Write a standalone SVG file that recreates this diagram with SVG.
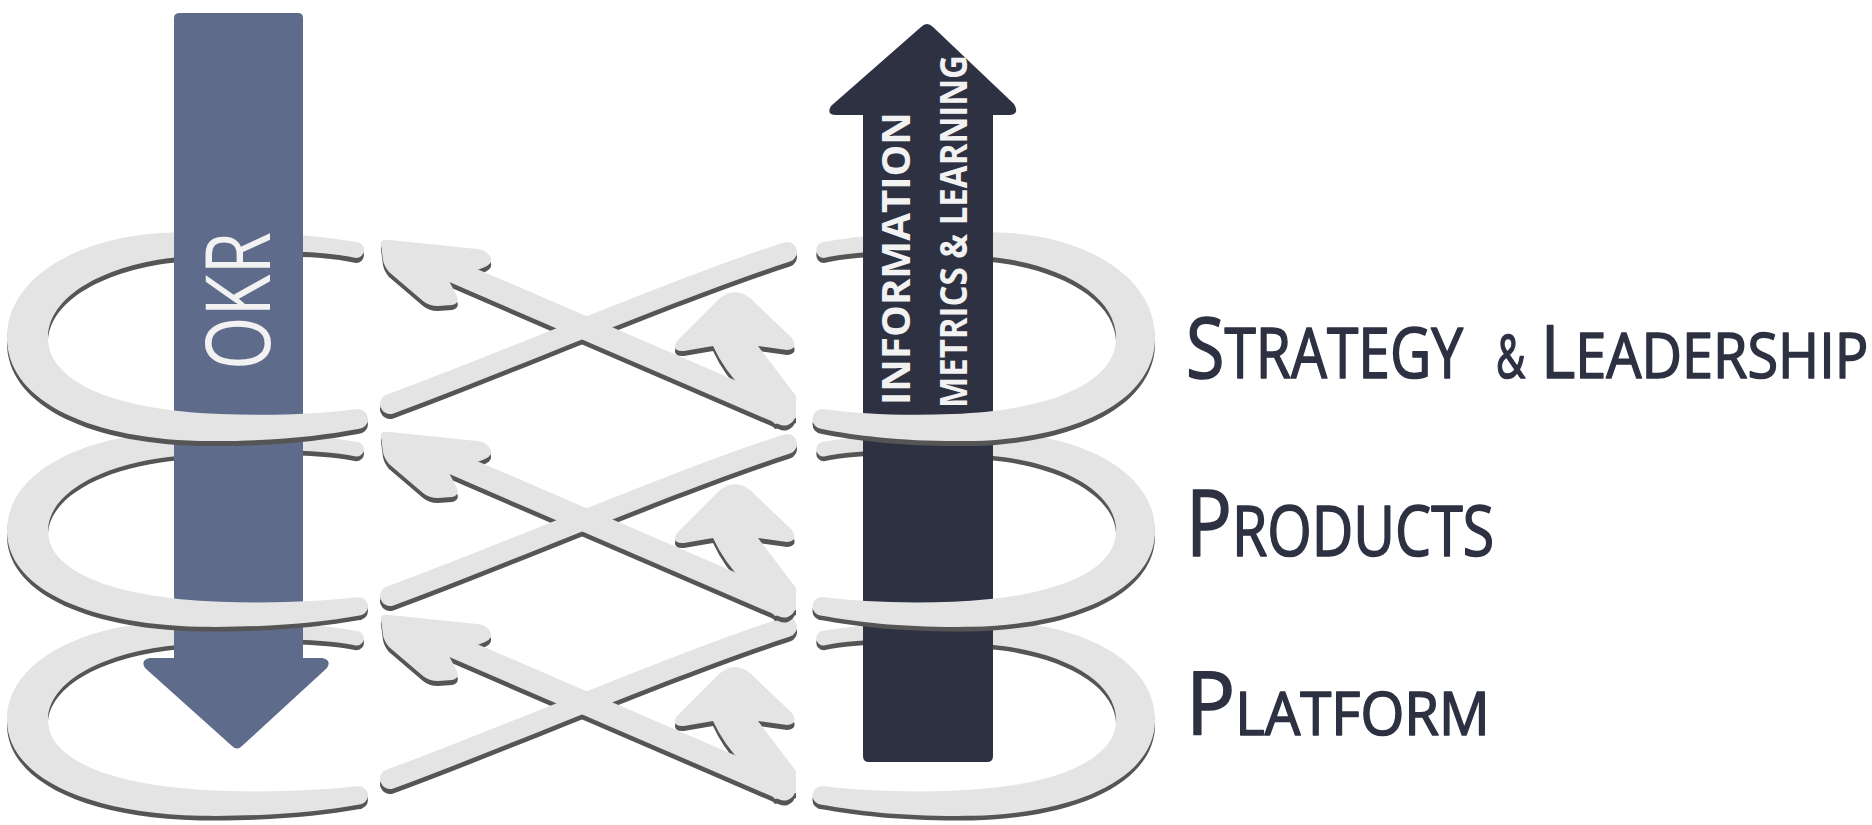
<svg xmlns="http://www.w3.org/2000/svg" width="1872" height="825" viewBox="0 0 1872 825">
<style>
.f{fill:currentColor}
.s{fill:none;stroke:currentColor;stroke-linecap:round;stroke-linejoin:round}
.sh{color:#555555}
.lt{color:#e4e4e4}
.lbl{font-family:"Open Sans","Liberation Sans",sans-serif;font-weight:400;fill:#2d3142;stroke:#2d3142;stroke-width:1.6;stroke-linejoin:round}
.atx{font-family:"Open Sans","Liberation Sans",sans-serif;fill:#f2f2f2}
</style>
<defs>
  <path id="rb" class="f" d="M7,3 L7,0 C7,-62 80,-100 160,-105 C220,-108 300,-106 356,-96 A8,8 0 0 1 356,-80 C315,-89 250,-88 180,-81 C105,-74 48,-42 48,0 L48,3 Z"/>
  <path id="rf" class="f" d="M7,0 C7,58 80,100 200,103 C270,104 320,98 358,91 A10,10 0 0 0 358,71 C320,76 270,78 220,76 C110,72 48,42 48,0 Z"/>
  <g id="xs">
    <path class="f" d="M384,-98 Q380,-98 381,-93 L383,-78 Q384,-72 389,-66 L423,-37 Q429,-32 438,-32 L452,-33 Q461,-35 456,-44 L449,-57 L485,-71 Q494,-75 490,-82 Q486,-88 477,-89 L390,-98 Z"/>
    <path class="s" d="M455,-66 L784,76" stroke-width="23"/>
    <path class="s" d="M390,66 C480,34 680,-52 787,-86" stroke-width="20"/>
    <path class="f" d="M713,8 Q724,32 744,52 L775,86 L796,80 L796,58 L758,8 Z"/>
    <path class="f" d="M713,8 L684,13 Q672,14 676,4 L720,-40 Q735,-52 750,-40 L792,0 Q799,11 787,12 L758,8 Z"/>
  </g>
</defs>
<rect width="1872" height="825" fill="#ffffff"/>

<g id="rings-back">
  <g id="ring-back-left-1" transform="matrix(1 0 0 1 0 338)"><use href="#rb" class="sh" transform="translate(0,5)"/><use href="#rb" class="lt"/></g>
  <g id="ring-back-right-1" transform="matrix(-0.949 0 0 1 1161.7 338)"><use href="#rb" class="sh" transform="translate(0,5)"/><use href="#rb" class="lt"/></g>
  <g id="ring-back-left-2" transform="matrix(1 0 0 0.93 0 531)"><use href="#rb" class="sh" transform="translate(0,5)"/><use href="#rb" class="lt"/></g>
  <g id="ring-back-right-2" transform="matrix(-0.949 0 0 0.93 1161.7 531)"><use href="#rb" class="sh" transform="translate(0,5)"/><use href="#rb" class="lt"/></g>
  <g id="ring-back-left-3" transform="matrix(1 0 0 0.93 0 720)"><use href="#rb" class="sh" transform="translate(0,5)"/><use href="#rb" class="lt"/></g>
  <g id="ring-back-right-3" transform="matrix(-0.949 0 0 0.93 1161.7 720)"><use href="#rb" class="sh" transform="translate(0,5)"/><use href="#rb" class="lt"/></g>
</g>

<g id="okr-arrow">
  <path fill="#5e6b8a" d="M180,13 L298,13 Q303,13 303,18 L303,658 L322,658 Q332,660 327,668 L242,746 Q237,751 232,746 L145,668 Q140,660 150,658 L174,658 L174,18 Q174,13 180,13 Z"/>
  <text class="atx" font-size="90" textLength="138" lengthAdjust="spacingAndGlyphs" transform="translate(270,370) rotate(-90)">OKR</text>
</g>

<g id="info-arrow">
  <path fill="#2d3142" d="M863,756 L863,115 L836,115 Q826,115 831,106 L921,27 Q927,21 933,27 L1014,104 Q1020,114 1010,115 L993,115 L993,756 Q993,762 987,762 L869,762 Q863,762 863,756 Z"/>
  <text class="atx" font-size="39" font-weight="700" textLength="293" lengthAdjust="spacingAndGlyphs" transform="translate(910,405) rotate(-90)">INFORMATION</text>
  <text class="atx" font-size="37" font-weight="700" textLength="353" lengthAdjust="spacingAndGlyphs" transform="translate(967,408) rotate(-90)">METRICS &amp; LEARNING</text>
</g>

<g id="rings-front">
  <g id="ring-front-left-1" transform="matrix(1 0 0 1 0 338)"><use href="#rf" class="sh" transform="translate(0,5)"/><use href="#rf" class="lt"/></g>
  <g id="ring-front-right-1" transform="matrix(-0.949 0 0 1 1161.7 338)"><use href="#rf" class="sh" transform="translate(0,5)"/><use href="#rf" class="lt"/></g>
  <g id="ring-front-left-2" transform="matrix(1 0 0 0.93 0 531)"><use href="#rf" class="sh" transform="translate(0,5)"/><use href="#rf" class="lt"/></g>
  <g id="ring-front-right-2" transform="matrix(-0.949 0 0 0.93 1161.7 531)"><use href="#rf" class="sh" transform="translate(0,5)"/><use href="#rf" class="lt"/></g>
  <g id="ring-front-left-3" transform="matrix(1 0 0 0.93 0 720)"><use href="#rf" class="sh" transform="translate(0,5)"/><use href="#rf" class="lt"/></g>
  <g id="ring-front-right-3" transform="matrix(-0.949 0 0 0.93 1161.7 720)"><use href="#rf" class="sh" transform="translate(0,5)"/><use href="#rf" class="lt"/></g>
</g>

<g id="connectors">
  <g id="cross-3" transform="translate(0,713)"><use href="#xs" class="sh" transform="translate(0,5)"/><use href="#xs" class="lt"/></g>
  <g id="cross-2" transform="translate(0,530)"><use href="#xs" class="sh" transform="translate(0,5)"/><use href="#xs" class="lt"/></g>
  <g id="cross-1" transform="translate(0,338)"><use href="#xs" class="sh" transform="translate(0,5)"/><use href="#xs" class="lt"/></g>
</g>

<g id="label-strategy">
  <text class="lbl" transform="translate(1186,378) scale(0.825,1)"><tspan font-size="85">S</tspan><tspan font-size="69">TRATEGY</tspan></text>
  <text class="lbl" font-size="60" transform="translate(1496,378) scale(0.67,1)">&amp;</text>
  <text class="lbl" transform="translate(1541,378) scale(0.90,1)"><tspan font-size="73">L</tspan><tspan font-size="62">EADERSHIP</tspan></text>
</g>
<g id="label-products">
  <text class="lbl" transform="translate(1186,556) scale(0.83,1)"><tspan font-size="92">P</tspan><tspan font-size="69">RODUCTS</tspan></text>
</g>
<g id="label-platform">
  <text class="lbl" transform="translate(1186,735) scale(0.94,1)"><tspan font-size="87">P</tspan><tspan font-size="60">LATFORM</tspan></text>
</g>
</svg>
